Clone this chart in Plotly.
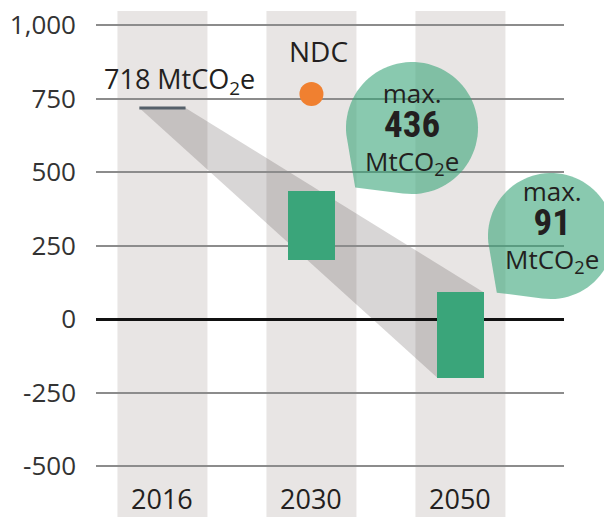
import math
import plotly.graph_objects as go

# ---------------- data ----------------
years = ["2016", "2030", "2050"]
x_pos = [0, 1, 2]
value_2016 = 718                 # MtCO2e
range_years_x = [1, 2]           # 2030, 2050
range_low = [200, -200]
range_high = [436, 91]
ndc_x = 1
ndc_value = 765
ytick_vals = [-500, -250, 0, 250, 500, 750, 1000]
ytick_text = ["-500", "-250", "0", "250", "500", "750", "1,000"]

# ---------------- style ----------------
BAR_W = 0.31
COL_W = 0.604
GREEN = "#3aa57a"
COL_BG = "#e8e5e4"
TXT = "#231f20"
FONT = "Open Sans, Noto Sans, sans-serif"
COND = "Roboto Condensed, Liberation Sans Narrow, DejaVu Sans Condensed, sans-serif"

# page offset of the plot div (body margin)
OFF = 8
W, H = 612 - OFF, 517 - OFF
L, R, T, B = 96 - OFF, 48, 11 - OFF, 0
PW, PH = W - L - R, H - T - B


def px(xpage):
    return (xpage - OFF - L) / PW


def py(ypage):
    return (H - B - (ypage - OFF)) / PH


fig = go.Figure()

# range bars
fig.add_trace(go.Bar(x=range_years_x, y=[h - l for h, l in zip(range_high, range_low)],
                     base=range_low, width=BAR_W, marker=dict(color=GREEN, line=dict(width=0)),
                     showlegend=False, hoverinfo="skip"))

# 2016 level line
hw = BAR_W / 2
fig.add_trace(go.Scatter(x=[x_pos[0] - hw, x_pos[0] + hw], y=[value_2016, value_2016],
                         mode="lines", line=dict(color="#55606a", width=3), showlegend=False))

# NDC point
fig.add_trace(go.Scatter(x=[ndc_x], y=[ndc_value], mode="markers",
                         marker=dict(color="#f08030", size=24, line=dict(width=0)),
                         showlegend=False))

shapes = []
# background columns
for xp in x_pos:
    shapes.append(dict(type="rect", xref="x", yref="paper", x0=xp - COL_W / 2, x1=xp + COL_W / 2,
                       y0=0, y1=1, fillcolor=COL_BG, line=dict(width=0), layer="below"))

# shaded pathway polygon (data coordinates)
poly = [(x_pos[0] - hw, value_2016), (x_pos[0] + hw, value_2016),
        (range_years_x[1] + hw, range_high[1]), (range_years_x[1] - hw, range_low[1])]
shapes.append(dict(type="path", xref="x", yref="y",
                   path="M " + " L ".join(f"{x},{y}" for x, y in poly) + " Z",
                   fillcolor="rgba(60,50,50,0.2)", line=dict(width=0), layer="below"))


def bubble(cx, cy, r):
    pts = []
    a_start, a_end = 262, 186 + 360
    n = 72
    for i in range(n + 1):
        a = math.radians(a_start + (a_end - a_start) * i / n)
        pts.append((r * math.cos(a), r * math.sin(a)))
    tip = (-0.86 * r, -0.90 * r)
    pts.append(tip)
    path = "M " + " L ".join(f"{x:.1f},{y:.1f}" for x, y in pts) + " Z"
    return dict(type="path", xref="paper", yref="paper", xsizemode="pixel", ysizemode="pixel",
                xanchor=px(cx), yanchor=py(cy), path=path,
                fillcolor="rgba(59,165,122,0.6)", line=dict(width=0), layer="above")


shapes.append(bubble(412, 128, 66))
shapes.append(bubble(551, 236, 63))

annotations = []


def txt(x, y, text, size, font=FONT, xanchor="center"):
    annotations.append(dict(xref="paper", yref="paper", x=px(x), y=py(y), text=text,
                            showarrow=False, xanchor=xanchor, yanchor="middle",
                            font=dict(family=font, size=size, color=TXT)))


def bubble_text(value):
    big = f"<span style=\"font-family:{COND};font-size:37px\"><b>{value}</b></span>"
    return f"max.<br>{big}<br>MtCO<sub>2</sub>e"


for xp, yr in zip(x_pos, years):
    annotations.append(dict(xref="x", yref="paper", x=xp, y=py(498), text=yr, showarrow=False,
                            xanchor="center", yanchor="middle",
                            font=dict(family=FONT, size=27, color=TXT)))

txt(102, 80, f"{value_2016} MtCO<sub>2</sub>e", 27, xanchor="left")
txt(318, 51, "NDC", 28)
txt(412, 128, bubble_text(range_high[0]), 26)
txt(552, 226, bubble_text(range_high[1]), 26)

x_min = -0.446
x_max = 2.695
y_max = 1000 + (25 - 11) / 0.294
y_min = -500 - (517 - 466) / 0.294

fig.update_layout(
    width=W, height=H, margin=dict(l=L, r=R, t=T, b=B, autoexpand=False),
    paper_bgcolor="white", plot_bgcolor="white",
    shapes=shapes, annotations=annotations, bargap=0,
    xaxis=dict(range=[x_min, x_max], showgrid=False, zeroline=False, showticklabels=False,
               showline=False, fixedrange=True, automargin=False),
    yaxis=dict(range=[y_min, y_max], tickvals=ytick_vals, ticktext=ytick_text,
               showgrid=True, gridcolor="#8c8c8c", gridwidth=1.5,
               zeroline=True, zerolinecolor="#111111", zerolinewidth=3,
               showline=False, ticks="", ticklabelstandoff=19, automargin=False,
               ticklabeloverflow="allow",
               tickfont=dict(family=FONT, size=26, color="#333333")),
)

fig.write_html("out.html")
